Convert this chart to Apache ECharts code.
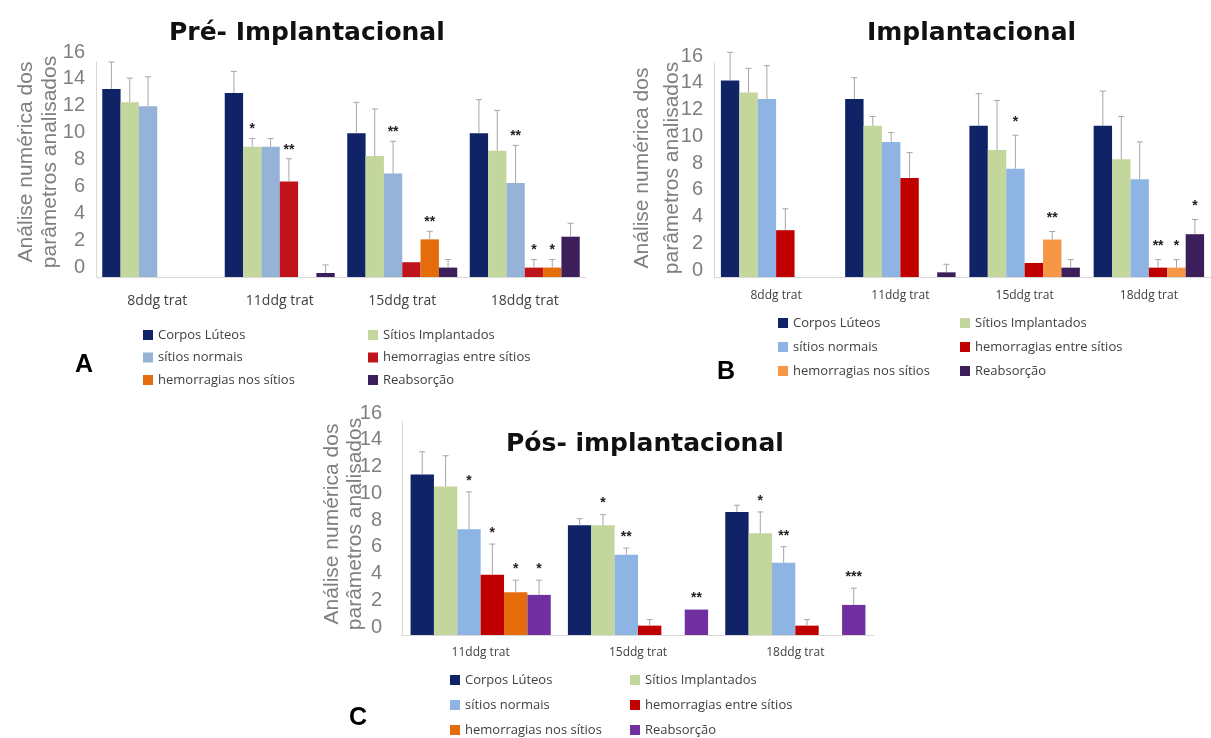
<!DOCTYPE html>
<html><head><meta charset="utf-8">
<script src="https://cdn.jsdelivr.net/npm/echarts@6/dist/echarts.min.js"></script>
<style>html,body{margin:0;padding:0;background:#fff}#c{width:1211px;height:738px}</style>
</head><body><div id="c"></div>
<script>
// ---------- data ----------
const seriesNames = ['Corpos Lúteos','Sítios Implantados','sítios normais','hemorragias entre sítios','hemorragias nos sítios','Reabsorção'];
const yAxisName = 'Análise numérica dos\nparâmetros analisados';
const titleA = 'Pré- Implantacional', titleB = 'Implantacional', titleC = 'Pós- implantacional';

// Panel A
const catA = ['8ddg trat','11ddg trat','15ddg trat','18ddg trat'];
const aCorpos   = [14.0, 13.7, 10.7, 10.7], aCorposErr   = [2.0, 1.6, 2.3, 2.5];
const aSitios   = [13.0, 9.7, 9.0, 9.4],    aSitiosErr   = [1.8, 0.6, 3.5, 3.0];
const aNormais  = [12.7, 9.7, 7.7, 7.0],    aNormaisErr  = [2.2, 0.6, 2.4, 2.8];
const aHemEntre = [0, 7.1, 1.1, 0.7],       aHemEntreErr = [0, 1.7, 0, 0.6];
const aHemNos   = [0, 0, 2.8, 0.7],         aHemNosErr   = [0, 0, 0.6, 0.6];
const aReab     = [0, 0.3, 0.7, 3.0],       aReabErr     = [0, 0.6, 0.6, 1.0];
const aStarsSitios = ['', '*', '', ''], aStarsNormais = ['', '', '**', '**'];
const aStarsHemEntre = ['', '**', '', '*'], aStarsHemNos = ['', '', '**', '*'];

// Panel B
const catB = ['8ddg trat','11ddg trat','15ddg trat','18ddg trat'];
const bCorpos   = [14.7, 13.3, 11.3, 11.3], bCorposErr   = [2.1, 1.6, 2.4, 2.6];
const bSitios   = [13.8, 11.3, 9.5, 8.8],   bSitiosErr   = [1.8, 0.7, 3.7, 3.2];
const bNormais  = [13.3, 10.1, 8.1, 7.3],   bNormaisErr  = [2.5, 0.7, 2.5, 2.8];
const bHemEntre = [3.5, 7.4, 1.05, 0.7],    bHemEntreErr = [1.6, 1.9, 0, 0.6];
const bHemNos   = [0, 0, 2.8, 0.7],         bHemNosErr   = [0, 0, 0.6, 0.6];
const bReab     = [0, 0.35, 0.7, 3.2],      bReabErr     = [0, 0.6, 0.6, 1.1];
const bStarsNormais = ['', '', '*', ''], bStarsHemEntre = ['', '', '', '**'];
const bStarsHemNos = ['', '', '**', '*'], bStarsReab = ['', '', '', '*'];

// Panel C
const catC = ['11ddg trat','15ddg trat','18ddg trat'];
const cCorpos   = [12.0, 8.2, 9.2],  cCorposErr   = [1.7, 0.5, 0.5];
const cSitios   = [11.1, 8.2, 7.6],  cSitiosErr   = [2.3, 0.8, 1.6];
const cNormais  = [7.9, 6.0, 5.4],   cNormaisErr  = [2.8, 0.5, 1.2];
const cHemEntre = [4.5, 0.7, 0.7],   cHemEntreErr = [2.3, 0.45, 0.45];
const cHemNos   = [3.2, 0, 0],       cHemNosErr   = [0.9, 0, 0];
const cReab     = [3.0, 1.9, 2.25],  cReabErr     = [1.1, 0, 1.25];
const cStarsSitios = ['', '*', '*'], cStarsNormais = ['*', '**', '**'];
const cStarsHemEntre = ['*', '', ''], cStarsHemNos = ['*', '', ''], cStarsReab = ['*', '**', '***'];

// ---------- layout / style ----------
const none4 = ['', '', '', ''], none3 = ['', '', ''];
const panels = [
  { cats: catA, title: titleA,
    vals: [aCorpos, aSitios, aNormais, aHemEntre, aHemNos, aReab],
    errs: [aCorposErr, aSitiosErr, aNormaisErr, aHemEntreErr, aHemNosErr, aReabErr],
    stars: [none4, aStarsSitios, aStarsNormais, aStarsHemEntre, aStarsHemNos, none4],
    colors: ['#0f2366','#c3d69b','#95b3d7','#c0141c','#e46c0a','#3c1f5a'],
    grid: {left: 96, top: 62, width: 490, height: 215}, gap: 0.102,
    labelOff: 10, labelMargin: 11, nameGap: 34, nameLH: 24, namePad: [0,0,0,15],
    catFont: 14, catMargin: 17, starOff: 2,
    titlePos: {left: 169, top: 21},
    legend: {x1: 143, x2: 368, top: 327, gap: 6.5}, letter: {t: 'A', x: 84, y: 365} },
  { cats: catB, title: titleB,
    vals: [bCorpos, bSitios, bNormais, bHemEntre, bHemNos, bReab],
    errs: [bCorposErr, bSitiosErr, bNormaisErr, bHemEntreErr, bHemNosErr, bReabErr],
    stars: [none4, none4, bStarsNormais, bStarsHemEntre, bStarsHemNos, bStarsReab],
    colors: ['#0f2366','#c3d69b','#8db4e2','#c00000','#f79646','#3c1f5a'],
    grid: {left: 714, top: 63, width: 504, height: 214}, gap: 0.111,
    labelOff: 7, labelMargin: 11, nameGap: 27, nameLH: 30, namePad: [0,0,0,4],
    catFont: 12, catMargin: 13, starOff: 6,
    titlePos: {left: 867, top: 21},
    legend: {x1: 778, x2: 960, top: 315, gap: 8}, letter: {t: 'B', x: 726, y: 372} },
  { cats: catC, title: titleC,
    vals: [cCorpos, cSitios, cNormais, cHemEntre, cHemNos, cReab],
    errs: [cCorposErr, cSitiosErr, cNormaisErr, cHemEntreErr, cHemNosErr, cReabErr],
    stars: [none3, cStarsSitios, cStarsNormais, cStarsHemEntre, cStarsHemNos, cStarsReab],
    colors: ['#0f2366','#c3d69b','#8db4e2','#c00000','#e46c0a','#7030a0'],
    grid: {left: 402, top: 421, width: 472, height: 214}, gap: 0.109,
    labelOff: 8, labelMargin: 20, nameGap: 35, nameLH: 23, namePad: [0,0,0,8],
    catFont: 12, catMargin: 12, starOff: 4,
    titlePos: {left: 506, top: 432},
    legend: {x1: 450, x2: 630, top: 672, gap: 9}, letter: {t: 'C', x: 358, y: 718} }
];

const grey = '#7f7f7f';
const option = {
  backgroundColor: '#fff', animation: false,
  title: [], grid: [], xAxis: [], yAxis: [], series: [], legend: [], graphic: []
};

panels.forEach((p, pi) => {
  option.title.push({ text: p.title, left: p.titlePos.left, top: p.titlePos.top, padding: 0,
    textStyle: { fontFamily: 'DejaVu Sans', fontWeight: 'bold', fontSize: 25, color: '#111' } });
  option.grid.push(Object.assign({ containLabel: false }, p.grid));
  option.xAxis.push({ type: 'category', gridIndex: pi, data: p.cats,
    axisLine: { lineStyle: { color: '#d9d9d9', width: 1 } }, axisTick: { show: false },
    axisLabel: { interval: 0, margin: p.catMargin, fontFamily: 'Open Sans', fontSize: p.catFont, color: '#404040' } });
  option.yAxis.push({ type: 'value', gridIndex: pi, min: 0, max: 16, interval: 2,
    name: yAxisName, nameLocation: 'middle', nameRotate: 90, nameGap: p.nameGap, nameMoveOverlap: false,
    nameTextStyle: { fontFamily: 'Liberation Sans', fontSize: 21, color: grey, lineHeight: p.nameLH, padding: p.namePad },
    axisLine: { show: true, lineStyle: { color: '#d9d9d9', width: 1 } }, axisTick: { show: false },
    splitLine: { show: false },
    axisLabel: { fontFamily: 'Liberation Sans', fontSize: 20, color: grey, margin: p.labelMargin,
      showMinLabel: true, showMaxLabel: true, hideOverlap: false,
      verticalAlign: 'bottom', lineHeight: p.labelOff * 2 } });
  p.vals.forEach((arr, s) => {
    option.series.push({ type: 'bar', name: seriesNames[s], xAxisIndex: pi, yAxisIndex: pi,
      data: arr, barGap: '0%', barCategoryGap: (p.gap * 100) + '%',
      itemStyle: { color: p.colors[s] }, silent: true });
  });
  // error bars + significance marks
  const items = [];
  p.vals.forEach((arr, s) => arr.forEach((v, c) => {
    const e = p.errs[s][c], st = p.stars[s][c];
    if (e > 0 || st) items.push({ value: [c, v, e, s], star: st });
  }));
  option.series.push({ type: 'custom', name: 'erros', xAxisIndex: pi, yAxisIndex: pi, silent: true, clip: false, z: 5,
    encode: { x: 0, y: 1 }, data: items.map(d => d.value),
    renderItem: function (params, api) {
      const d = items[params.dataIndex];
      const c = api.value(0), v = api.value(1), e = api.value(2), s = api.value(3);
      const band = api.size([1, 0])[0];
      const gw = band * (1 - p.gap), bw = gw / 6;
      const x = api.coord([c, 0])[0] - gw / 2 + (s + 0.5) * bw;
      const yb = api.coord([c, v])[1], yt = api.coord([c, v + e])[1];
      const ch = [];
      if (e > 0) {
        ch.push({ type: 'line', shape: { x1: x, y1: yb, x2: x, y2: yt }, style: { stroke: '#a6a6a6', lineWidth: 1 } });
        ch.push({ type: 'line', shape: { x1: x - 3, y1: yt, x2: x + 3, y2: yt }, style: { stroke: '#a6a6a6', lineWidth: 1 } });
      }
      if (d.star) ch.push({ type: 'text', style: { text: d.star, x: x, y: yt - p.starOff, align: 'center', verticalAlign: 'bottom',
        font: 'bold 14px "Liberation Sans"', fill: '#222' } });
      return { type: 'group', children: ch };
    } });
  const leg = (names, x) => ({ orient: 'vertical', left: x, top: p.legend.top, height: 90, padding: 0,
    itemWidth: 10, itemHeight: 10, itemGap: p.legend.gap, icon: 'rect', selectedMode: false,
    textStyle: { fontFamily: 'Open Sans', fontSize: 13, color: '#404040', lineHeight: 16 },
    data: names.map(i => ({ name: seriesNames[i], itemStyle: { color: p.colors[i] } })) });
  option.legend.push(leg([0, 2, 4], p.legend.x1));
  option.legend.push(leg([1, 3, 5], p.legend.x2));
  option.graphic.push({ type: 'text', x: p.letter.x, y: p.letter.y, silent: true,
    style: { text: p.letter.t, font: 'bold 25px "Liberation Sans"', fill: '#000', align: 'center', verticalAlign: 'middle' } });
});

const chart = echarts.init(document.getElementById('c'), null, { renderer: 'canvas' });
chart.setOption(option);
</script></body></html>
